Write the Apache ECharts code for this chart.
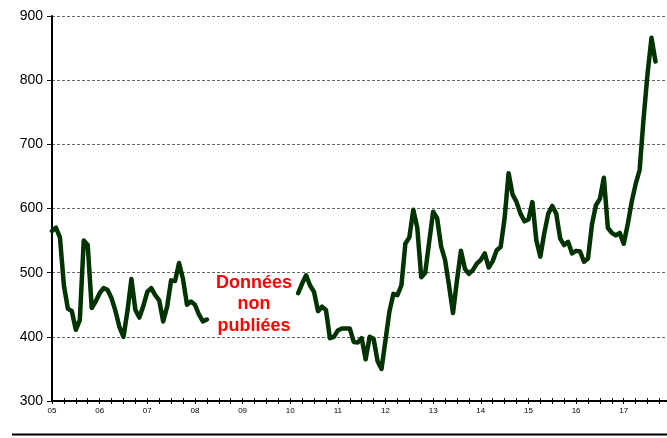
<!DOCTYPE html>
<html>
<head>
<meta charset="utf-8">
<script src="https://cdn.jsdelivr.net/npm/echarts@6/dist/echarts.min.js"></script>
<style>html,body{margin:0;padding:0;background:#fff;}#c{width:667px;height:438px;}</style>
</head>
<body>
<div id="c"></div>
<script>
// Monthly values from January 2005 (index 0); null = data not published
const startYear = 2005;
const values = [
  565,570,555,480,444,440,411,426,550,543,445,455,
  468,476,473,460,440,415,400,440,490,442,430,448,
  470,476,465,457,424,447,488,487,515,490,450,455,
  450,435,424,427,null,null,null,null,null,null,null,null,
  null,null,null,null,null,null,null,null,null,null,null,null,
  null,null,468,483,496,480,470,440,447,442,398,400,
  410,413,413,413,392,391,398,365,400,397,362,350,
  395,440,467,465,480,545,555,598,570,493,500,548,
  595,585,541,520,480,437,488,534,506,498,504,514,
  520,530,508,518,535,540,585,655,622,610,592,580,
  583,610,550,525,562,592,604,592,553,543,548,530,
  534,533,517,522,575,605,615,648,570,562,558,562,
  545,575,610,638,660,740,810,866,829
];
const yTicks = [300,400,500,600,700,800,900];
const annotation = 'Données\nnon\npubliées';

const data = values.map((v,i)=>[i,v]);
const chart = echarts.init(document.getElementById('c'), null, {renderer:'canvas'});
const xMax = 154.9;
chart.setOption({
  animation:false,
  backgroundColor:'#fff',
  grid:{left:52,right:0,top:16,bottom:37,containLabel:false},
  xAxis:[{
    type:'value', min:0, max:xMax, interval:3,
    axisLine:{show:true,onZero:false,lineStyle:{color:'#000',width:2}},
    axisTick:{show:true,length:3,lineStyle:{color:'#000',width:1}},
    axisLabel:{
      show:true, margin:6, fontSize:8, color:'#000',
      fontFamily:'Liberation Sans Narrow, Arial Narrow, Liberation Sans, sans-serif',
      formatter:function(v){ if(v%12!==0) return ''; const y=(startYear+v/12)%100; return (y<10?'0':'')+y; },
      showMaxLabel:false, align:'center'
    },
    splitLine:{show:false}
  },{
    type:'value', min:0, max:xMax, interval:3, position:'bottom',
    axisLine:{show:false},
    axisTick:{show:true,inside:true,length:3,lineStyle:{color:'#000',width:1}},
    axisLabel:{show:false}, splitLine:{show:false}
  }],
  yAxis:{
    type:'value', min:yTicks[0], max:yTicks[yTicks.length-1], interval:100,
    axisLine:{show:true,lineStyle:{color:'#000',width:2}},
    axisTick:{show:true,length:5,lineStyle:{color:'#000',width:1}},
    axisLabel:{fontSize:14,color:'#000',margin:9,fontFamily:'Liberation Sans, Arial, sans-serif'},
    splitLine:{show:true,lineStyle:{color:'#666',width:1,type:[3,2]}}
  },
  series:[{
    type:'line', data:data, showSymbol:false, connectNulls:false,
    lineStyle:{color:'#003300',width:4.5,join:'round',cap:'round'},
    z:5
  }],
  graphic:[
    {type:'text', left:'center', top:272, left:212, style:{text:annotation, fill:'#ff0000', font:'bold 18px Liberation Sans, Arial, sans-serif', textAlign:'center', lineHeight:21.5, width:84, align:'center'}},
    {type:'line', shape:{x1:12,y1:434.5,x2:667,y2:434.5}, style:{stroke:'#000',lineWidth:2}}
  ]
});
</script>
</body>
</html>
